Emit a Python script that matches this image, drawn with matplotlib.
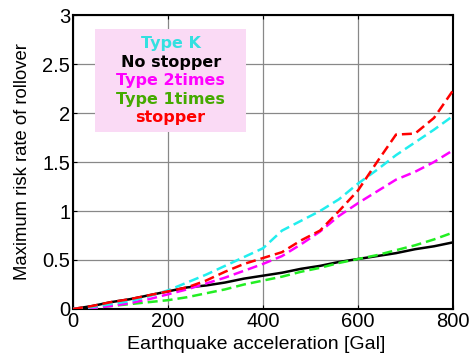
import numpy as np
import matplotlib.pyplot as plt
from matplotlib.patches import Rectangle

plt.rcParams['font.family'] = ['Liberation Sans', 'DejaVu Sans']

# Earthquake acceleration [Gal]
accel = [0, 40, 80, 120, 160, 200, 240, 280, 320, 360, 400,
         440, 480, 520, 560, 600, 640, 680, 720, 760, 800]

# maximum risk rate of rollover
type_k = [0, 0.02, 0.05, 0.08, 0.13, 0.19, 0.27, 0.35, 0.44, 0.53, 0.62,
          0.80, 0.90, 1.00, 1.12, 1.28, 1.42, 1.57, 1.70, 1.83, 1.97]
no_stopper = [0, 0.03, 0.07, 0.10, 0.14, 0.18, 0.22, 0.24, 0.27, 0.31, 0.34,
              0.37, 0.41, 0.44, 0.48, 0.51, 0.54, 0.57, 0.61, 0.64, 0.68]
type_2times = [0, 0.01, 0.03, 0.06, 0.10, 0.15, 0.20, 0.26, 0.32, 0.39, 0.46,
               0.54, 0.66, 0.79, 0.95, 1.08, 1.20, 1.32, 1.40, 1.50, 1.62]
type_1times = [0, 0.01, 0.03, 0.05, 0.07, 0.09, 0.12, 0.16, 0.20, 0.25, 0.29,
               0.33, 0.38, 0.42, 0.47, 0.51, 0.55, 0.60, 0.65, 0.71, 0.78]
stopper = [0, 0.03, 0.07, 0.10, 0.14, 0.18, 0.22, 0.29, 0.38, 0.46, 0.52,
           0.58, 0.70, 0.80, 1.00, 1.21, 1.50, 1.78, 1.79, 1.95, 2.23]

fig = plt.figure(figsize=(4.75, 3.58), dpi=100)
ax = fig.add_axes([0.1537, 0.1369, 0.8, 0.8211])

ax.plot(accel, no_stopper, color='black', lw=1.8, zorder=3)
ax.plot(accel, type_1times, color='#22EE22', lw=1.8, ls=(0, (4, 2)), zorder=3)
ax.plot(accel, type_2times, color='#FF00FF', lw=1.8, ls=(0, (4, 2)), zorder=3)
ax.plot(accel, stopper, color='#FF0000', lw=1.8, ls=(0, (4, 2)), zorder=4)
ax.plot(accel, type_k, color='#22EEEE', lw=1.8, ls=(0, (4, 2)), zorder=3)

ax.set_xlim(0, 800)
ax.set_ylim(0, 3)
ax.set_xticks([0, 200, 400, 600, 800])
ax.set_yticks([0, 0.5, 1, 1.5, 2, 2.5, 3])
ax.set_yticklabels(['0', '0.5', '1', '1.5', '2', '2.5', '3'])
ax.grid(True, color='#888888', lw=0.9)
ax.tick_params(direction='in', top=True, right=True, labelsize=14.5, length=3, pad=2)
for s in ax.spines.values():
    s.set_linewidth(1.5)

ax.set_xlabel('Earthquake acceleration [Gal]', fontsize=14, labelpad=4, x=0.483)
ax.set_ylabel('Maximum risk rate of rollover', fontsize=13.3, labelpad=8)

# legend box
ax.add_patch(Rectangle((0.058, 0.602), 0.397, 0.35, transform=ax.transAxes,
                       facecolor='#FADAF5', edgecolor='none', zorder=5))
labels = ['Type K', 'No stopper', 'Type 2times', 'Type 1times', 'stopper']
colors = ['#33E0E0', 'black', '#FF00FF', '#44AA00', '#FF0000']
ys = [0.902, 0.840, 0.776, 0.714, 0.650]
for lab, c, y in zip(labels, colors, ys):
    ax.text(0.257, y, lab, transform=ax.transAxes, ha='center', va='center',
            color=c, fontsize=11.5, fontweight='bold', family='DejaVu Sans', zorder=6)

fig.savefig('out.png', dpi=100)
